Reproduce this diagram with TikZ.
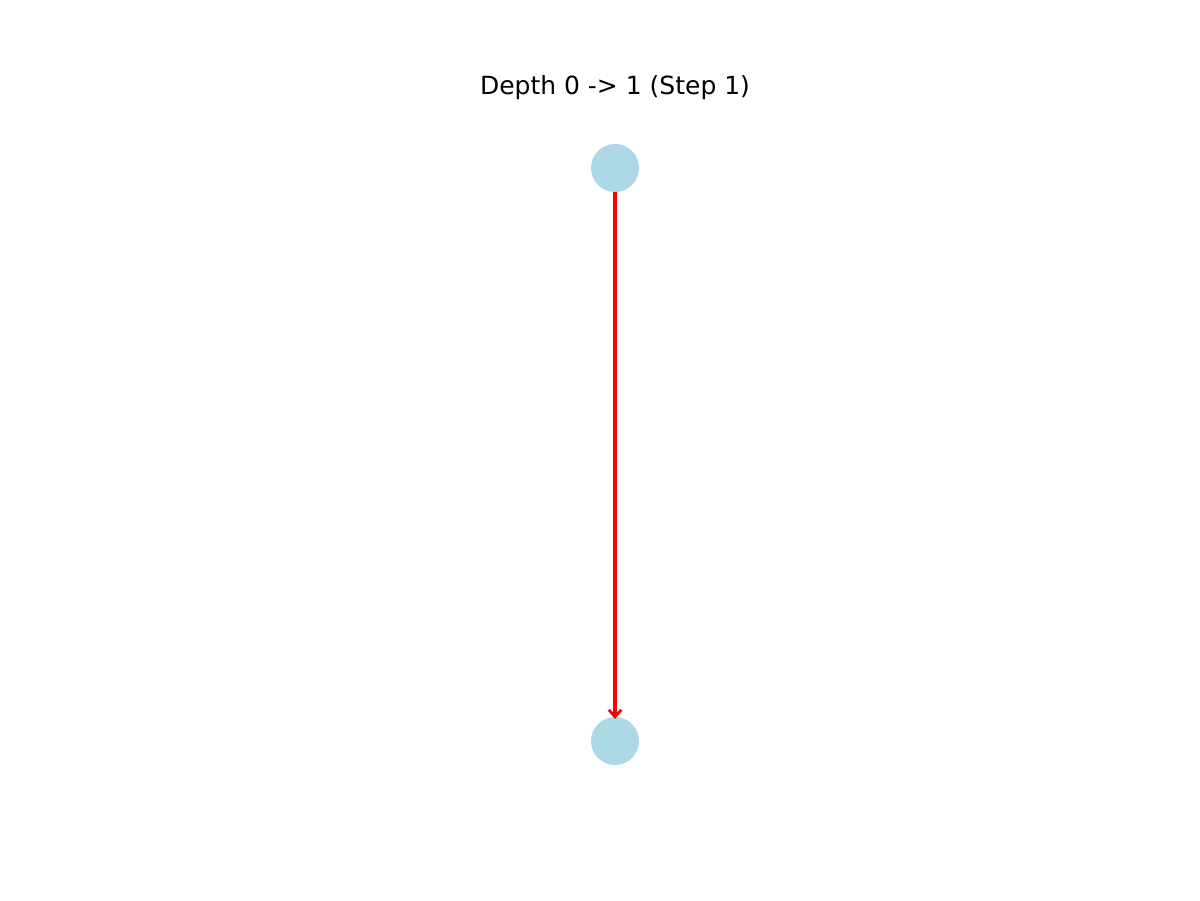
\documentclass[tikz,border=0pt]{standalone}
\usepackage{fontspec}
\setmainfont{DejaVu Sans}
\usetikzlibrary{arrows.meta}
\definecolor{nodeblue}{HTML}{ADD8E6}
\begin{document}
\begin{tikzpicture}[x=0.72pt,y=-0.72pt,
  gnode/.style={circle,fill=nodeblue,draw=none,minimum size=34.56pt,inner sep=0pt},
  redarrow/.style={draw=red,line width=2.2pt,-{Straight Barb[length=5pt,width=9pt,line width=2pt]},shorten >=-1.5pt}]
\useasboundingbox (0,0) rectangle (1200,900);
\node[font=\fontsize{18pt}{21pt}\selectfont] (title) at (615,88) {Depth 0 -> 1 (Step 1)};
\node[gnode] (a) at (615,168) {};
\node[gnode] (b) at (615,741) {};
\draw[redarrow] (a) -- (b);
\end{tikzpicture}
\end{document}
